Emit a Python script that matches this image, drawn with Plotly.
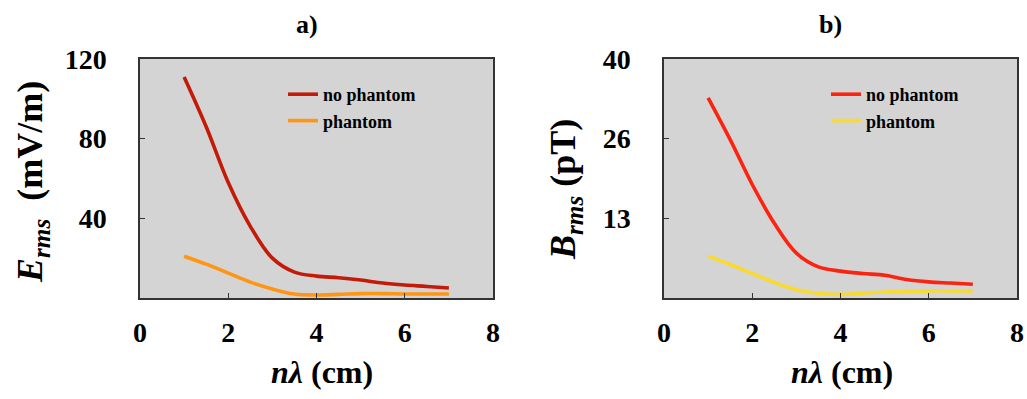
import plotly.graph_objects as go

# ---- data ----
n_lambda = [1, 1.5, 2, 2.5, 3, 3.5, 4, 4.5, 5, 5.5, 6, 6.5, 7]
E_no_phantom = [111, 86, 58, 36, 20, 13, 11, 10.2, 9, 7.5, 6.5, 5.8, 5.0]
E_phantom = [21, 17, 12.5, 8, 4.5, 2.0, 1.5, 1.8, 2.2, 2.2, 2.0, 2.0, 2.0]
B_no_phantom = [33.5, 26.5, 19, 12.5, 7.5, 5.2, 4.5, 4.1, 3.8, 3.1, 2.7, 2.5, 2.3]
B_phantom = [7.0, 5.6, 4.1, 2.6, 1.4, 0.8, 0.6, 0.8, 1.0, 1.1, 1.2, 1.2, 1.2]

x_tickvals = [0, 2, 4, 6, 8]
x_ticktext = ["0", "2", "4", "6", "8"]
E_tickvals = [40, 80, 120]
E_ticktext = ["40", "80", "120"]
B_tickvals = [40 / 3, 80 / 3, 40]
B_ticktext = ["13", "26", "40"]
series_names = ["no phantom", "phantom"]
panel_titles = ["a)", "b)"]

FONT = "Liberation Serif, DejaVu Serif, serif"
W, H = 1027, 399
fig = go.Figure()

fig.add_trace(go.Scatter(x=n_lambda, y=E_no_phantom, name=series_names[0], mode="lines",
                         line=dict(color="#c41a08", width=3.6, shape="spline"),
                         xaxis="x", yaxis="y", legend="legend"))
fig.add_trace(go.Scatter(x=n_lambda, y=E_phantom, name=series_names[1], mode="lines",
                         line=dict(color="#ff9512", width=3.6, shape="spline"),
                         xaxis="x", yaxis="y", legend="legend"))
fig.add_trace(go.Scatter(x=n_lambda, y=B_no_phantom, name=series_names[0], mode="lines",
                         line=dict(color="#fa2410", width=3.6, shape="spline"),
                         xaxis="x2", yaxis="y2", legend="legend2"))
fig.add_trace(go.Scatter(x=n_lambda, y=B_phantom, name=series_names[1], mode="lines",
                         line=dict(color="#f8da30", width=3.6, shape="spline"),
                         xaxis="x2", yaxis="y2", legend="legend2"))

def px_x(p):
    return p / W

def px_y(p):
    return 1 - p / H

ydom = [px_y(298), px_y(59)]
axis_common = dict(showline=True, linecolor="#333333", linewidth=1.5, mirror=True,
                   ticks="inside", ticklen=5, tickcolor="#333333", showgrid=False,
                   zeroline=False, automargin=False,
                   tickfont=dict(family=FONT, size=28, color="black", weight="bold"))

leg_font = dict(family=FONT, size=18, color="black", weight="bold")
fig.update_layout(
    width=W, height=H,
    margin=dict(l=0, r=0, t=0, b=0),
    paper_bgcolor="white",
    plot_bgcolor="#d4d4d4",
    showlegend=True,
    xaxis=dict(domain=[px_x(140), px_x(493)], range=[0, 8], tickvals=x_tickvals, ticktext=x_ticktext,
               anchor="y", ticklabelstandoff=9, **axis_common),
    yaxis=dict(domain=ydom, range=[0, 120], tickvals=E_tickvals, ticktext=E_ticktext,
               anchor="x", ticklabelstandoff=26, **axis_common),
    xaxis2=dict(domain=[px_x(664), px_x(1017)], range=[0, 8], tickvals=x_tickvals, ticktext=x_ticktext,
                anchor="y2", ticklabelstandoff=9, **axis_common),
    yaxis2=dict(domain=ydom, range=[0, 40], tickvals=B_tickvals, ticktext=B_ticktext,
                anchor="x2", ticklabelstandoff=26, **axis_common),
    legend=dict(x=px_x(283), y=px_y(76), xanchor="left", yanchor="top", bgcolor="rgba(0,0,0,0)",
                font=leg_font, tracegroupgap=0),
    legend2=dict(x=px_x(826), y=px_y(76), xanchor="left", yanchor="top", bgcolor="rgba(0,0,0,0)",
                 font=leg_font, tracegroupgap=0),
)

title_font = dict(family=FONT, size=26, color="black", weight="bold")
xlab_font = dict(family=FONT, size=32, color="black", weight="bold")
ylab_font = dict(family=FONT, size=36, color="black", weight="bold")
ann = [
    dict(text=panel_titles[0], x=px_x(307), y=px_y(24), font=title_font),
    dict(text=panel_titles[1], x=px_x(830), y=px_y(24), font=title_font),
    dict(text="<i>n\u03bb</i> (cm)", x=px_x(322), y=px_y(372), font=xlab_font),
    dict(text="<i>n\u03bb</i> (cm)", x=px_x(842), y=px_y(372), font=xlab_font),
    dict(text="<i>E<sub>rms</sub></i>  (mV/m)", x=px_x(32), y=px_y(182), textangle=-90, font=ylab_font),
    dict(text="<i>B<sub>rms</sub></i> (pT)", x=px_x(565), y=px_y(190), textangle=-90, font=ylab_font),
]
for a in ann:
    fig.add_annotation(xref="paper", yref="paper", showarrow=False, xanchor="center", yanchor="middle", **a)

fig.write_html("out.html")
